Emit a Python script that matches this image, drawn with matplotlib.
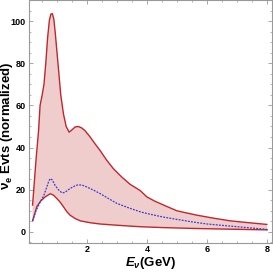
import matplotlib
matplotlib.use("Agg")
import matplotlib.pyplot as plt
from matplotlib.ticker import MultipleLocator

plt.rcParams["font.family"] = ["Liberation Sans", "DejaVu Sans"]
plt.rcParams["mathtext.fontset"] = "custom"
plt.rcParams["mathtext.rm"] = "Liberation Sans"
plt.rcParams["mathtext.it"] = "Liberation Sans:italic"
plt.rcParams["mathtext.bf"] = "Liberation Sans:bold"
plt.rcParams["mathtext.bfit"] = "Liberation Sans:bold:italic"

e_upper = [0.18, 0.30, 0.38, 0.43, 0.50, 0.56, 0.62, 0.68, 0.74, 0.79, 0.84, 0.89, 0.94, 0.99,
           1.04, 1.12, 1.21, 1.30, 1.40,
           1.50, 1.60, 1.71, 1.82, 1.93, 2.10, 2.25, 2.43, 2.65, 2.87, 3.15, 3.43, 3.77, 3.99,
           4.25, 4.55, 4.99, 5.30, 5.66, 6.20, 6.77, 7.40, 7.99]
v_upper = [12.6, 35, 48, 60, 65, 70, 80, 92, 100.5, 103.5, 103.7, 101, 94, 86,
           78, 65, 56, 50, 47.3,
           48.5, 49.8, 50, 49.3, 48, 45, 42, 38.6, 34, 30, 26, 22.5, 19.5, 16.5,
           14.5, 12.6, 9.9, 8.9, 7.8, 6.4, 5.1, 4.2, 3.4]

e_lower = [0.18, 0.25, 0.32, 0.45, 0.60, 0.77, 0.88, 0.99, 1.10, 1.21, 1.32, 1.43, 1.60, 1.77,
           2.10, 2.43, 3.00, 3.43, 3.77, 4.50, 5.50, 6.50, 8.00]
v_lower = [5.1, 8.5, 11.8, 14.5, 16.5, 18, 17.3, 15.7, 14, 11.8, 9.5, 7.8, 6.2, 5.1,
           4.2, 3.6, 3.0, 2.6, 2.3, 1.9, 1.5, 1.2, 0.8]

e_central = [0.18, 0.30, 0.43, 0.55, 0.65, 0.72, 0.77, 0.84, 0.93, 1.05, 1.16, 1.25, 1.43, 1.60,
             1.71, 1.85, 1.99, 2.20, 2.43, 2.70, 2.99, 3.40, 3.77, 3.99, 4.50, 4.99, 5.50, 6.00,
             6.77, 7.40, 8.00]
v_central = [5, 10, 14, 17, 21, 24, 25.2, 24.5, 22, 19.8, 18.4, 18.6, 20.5, 21.8,
             22.3, 22, 21.2, 19.8, 18.1, 15.8, 13.4, 11.2, 9.4, 8.6, 7.0, 5.8, 4.6, 3.6,
             2.6, 1.8, 1.0]

x_ticks = [2, 4, 6, 8]
y_ticks = [0, 20, 40, 60, 80, 100]

fig = plt.figure(figsize=(2.73, 2.73), dpi=100)
ax = fig.add_axes([0.105, 0.111, 0.89, 0.889])

red = "#c0272d"
ax.fill(e_upper + e_lower[::-1], v_upper + v_lower[::-1], color="#f0cdcd", lw=0)
ax.plot(e_upper, v_upper, color=red, lw=1.0)
ax.plot(e_lower, v_lower, color=red, lw=1.0)
ax.plot(e_central, v_central, color="#3a3ad0", lw=0.9, ls=(0, (1.5, 1)))

ax.set_xlim(0.05, 8.15)
ax.set_ylim(-5.3, 110.2)
ax.set_xticks(x_ticks)
ax.set_yticks(y_ticks)
ax.xaxis.set_minor_locator(MultipleLocator(0.5))
ax.yaxis.set_minor_locator(MultipleLocator(5))
for s in ax.spines.values():
    s.set_color("#999999")
    s.set_linewidth(0.8)
ax.tick_params(which="both", direction="in", top=True, right=True, color="#999999",
               labelsize=6.5, pad=2)
ax.tick_params(which="major", length=3, width=0.6)
ax.tick_params(which="minor", length=1.5, width=0.5)
for lab in ax.get_xticklabels() + ax.get_yticklabels():
    lab.set_fontweight("bold")

fig.text(0.551, 0.036, r"$\mathbfit{E}_{\mathbfit{\nu}}$(GeV)", fontsize=9.5, fontweight="bold",
         ha="center", va="center")
fig.text(0.027, 0.538, r"$\overline{\mathbf{\nu}}_{\mathbf{e}}$ Evts (normalized)", fontsize=9.5,
         fontweight="bold", ha="center", va="center", rotation=90)

fig.savefig("out.png", dpi=100)
